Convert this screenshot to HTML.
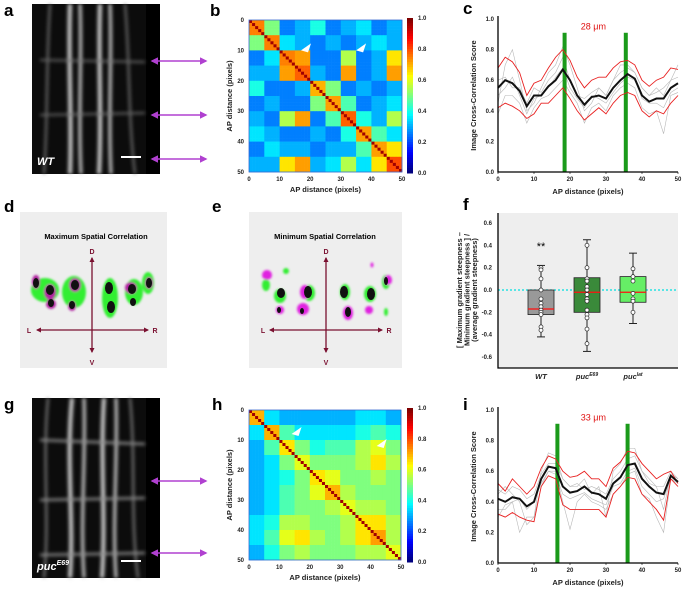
<!DOCTYPE html>
<html><head><meta charset="utf-8"><style>
body{margin:0;background:#fff;width:683px;height:587px;overflow:hidden}
text{font-family:"Liberation Sans",Arial,sans-serif}
.lbl{font-size:17px;font-weight:bold}
.tk{font-size:6px;font-weight:bold;fill:#222}
.at{font-size:7.5px;font-weight:bold;fill:#222}
</style></head><body>
<svg id="fig" width="683" height="587" viewBox="0 0 683 587" xmlns="http://www.w3.org/2000/svg">
<defs>
<filter id="bl" x="-20%" y="-20%" width="140%" height="140%"><feGaussianBlur stdDeviation="1.8"/></filter>
<filter id="bl2"><feGaussianBlur stdDeviation="1"/></filter>
<marker id="ah" viewBox="0 0 10 10" refX="8" refY="5" markerWidth="5" markerHeight="5" orient="auto-start-reverse"><path d="M0,0L10,5L0,10z" fill="#b040d0"/></marker>
<marker id="am" viewBox="0 0 10 10" refX="8" refY="5" markerWidth="4" markerHeight="4" orient="auto-start-reverse"><path d="M0,0L10,5L0,10z" fill="#7a1030"/></marker>
</defs>
<g id="labels">
<text class="lbl" x="4" y="16">a</text>
<text class="lbl" x="210" y="16">b</text>
<text class="lbl" x="463" y="14">c</text>
<text class="lbl" x="4" y="212">d</text>
<text class="lbl" x="212" y="212">e</text>
<text class="lbl" x="463" y="210">f</text>
<text class="lbl" x="4" y="410">g</text>
<text class="lbl" x="212" y="410">h</text>
<text class="lbl" x="463" y="410">i</text>
</g>
<!-- panel a -->
<g>
<rect x="32" y="4" width="128" height="170" fill="#0c0c0c"/>
<rect x="146" y="4" width="14" height="170" fill="#000"/>
<g filter="url(#bl)" stroke="#cfcfcf" fill="none">
<path d="M70,4 C68,60 72,120 70,174" stroke-width="4"/>
<path d="M80,4 C82,60 78,120 81,174" stroke-width="3"/>
<path d="M100,4 C98,60 102,120 99,174" stroke-width="4"/>
<path d="M110,4 C112,60 108,120 111,174" stroke-width="3"/>
<path d="M50,4 C46,60 48,120 44,174" stroke-width="2" stroke="#777"/>
<path d="M125,4 C130,60 128,120 135,174" stroke-width="2" stroke="#777"/>
<path d="M40,60 L145,62 M40,115 L145,113" stroke-width="2" stroke="#666"/>
</g>
<text x="37" y="165" fill="#fff" font-size="11" font-weight="bold" font-style="italic">WT</text>
<rect x="121" y="156" width="20" height="2" fill="#fff"/>
</g>
<g stroke="#b040d0" stroke-width="1.5">
<line x1="152" y1="61" x2="206" y2="61" marker-start="url(#ah)" marker-end="url(#ah)"/>
<line x1="152" y1="115" x2="206" y2="115" marker-start="url(#ah)" marker-end="url(#ah)"/>
<line x1="152" y1="159" x2="206" y2="159" marker-start="url(#ah)" marker-end="url(#ah)"/>
</g>
<!-- panel g -->
<g>
<rect x="32" y="398" width="128" height="180" fill="#0c0c0c"/>
<rect x="146" y="398" width="14" height="180" fill="#000"/>
<g filter="url(#bl)" stroke="#cfcfcf" fill="none">
<path d="M72,398 C66,460 74,520 70,578" stroke-width="4"/>
<path d="M84,398 C86,460 80,520 84,578" stroke-width="3"/>
<path d="M104,398 C100,460 106,520 102,578" stroke-width="4"/>
<path d="M116,398 C118,460 112,520 116,578" stroke-width="3"/>
<path d="M48,398 C42,460 50,520 44,578" stroke-width="2" stroke="#888"/>
<path d="M130,398 C136,460 130,520 138,578" stroke-width="2" stroke="#888"/>
<path d="M40,440 L145,444 M40,500 L145,498 M40,555 L145,553" stroke-width="2.5" stroke="#888"/>
</g>
<text x="37" y="570" fill="#fff" font-size="11" font-weight="bold" font-style="italic">puc<tspan font-size="7" dy="-5">E69</tspan></text>
<rect x="121" y="560" width="20" height="2" fill="#fff"/>
</g>
<g stroke="#b040d0" stroke-width="1.5">
<line x1="152" y1="481" x2="206" y2="481" marker-start="url(#ah)" marker-end="url(#ah)"/>
<line x1="152" y1="553" x2="206" y2="553" marker-start="url(#ah)" marker-end="url(#ah)"/>
</g>
<!-- panels d,e -->
<g>
<rect x="20" y="212" width="147" height="156" fill="#eeeeee"/>
<text x="96" y="239" text-anchor="middle" font-size="7.5" font-weight="bold">Maximum Spatial Correlation</text>
<g filter="url(#bl2)">
<ellipse cx="45" cy="290" rx="14" ry="12" fill="#33ee33"/><ellipse cx="74" cy="292" rx="12" ry="16" fill="#33ee33"/>
<ellipse cx="110" cy="298" rx="8" ry="20" fill="#33ee33"/><ellipse cx="134" cy="292" rx="9" ry="13" fill="#33ee33"/><ellipse cx="148" cy="283" rx="6" ry="11" fill="#33ee33"/>
<ellipse cx="36" cy="282" rx="4" ry="7" fill="#b020a0"/><ellipse cx="50" cy="292" rx="6" ry="8" fill="#b020a0"/><ellipse cx="51" cy="304" rx="5" ry="5" fill="#b020a0"/>
<ellipse cx="75" cy="285" rx="6" ry="7" fill="#b020a0"/><ellipse cx="72" cy="306" rx="4" ry="5" fill="#b020a0"/><ellipse cx="131" cy="288" rx="6" ry="6" fill="#b020a0"/><ellipse cx="149" cy="283" rx="4" ry="6" fill="#b020a0"/>
</g>
<g fill="#111">
<ellipse cx="36" cy="283" rx="3" ry="5"/><ellipse cx="50" cy="290" rx="4" ry="5"/><ellipse cx="51" cy="303" rx="3" ry="4"/><ellipse cx="75" cy="285" rx="4" ry="5"/><ellipse cx="72" cy="305" rx="3" ry="4"/>
<ellipse cx="109" cy="288" rx="4" ry="6"/><ellipse cx="111" cy="307" rx="4" ry="6"/><ellipse cx="132" cy="289" rx="4" ry="5"/><ellipse cx="133" cy="302" rx="3" ry="4"/><ellipse cx="149" cy="283" rx="3" ry="5"/>
</g>
<g stroke="#7a1030" stroke-width="1.3"><line x1="92" y1="352" x2="92" y2="258" marker-start="url(#am)" marker-end="url(#am)"/><line x1="37" y1="330" x2="148" y2="330" marker-start="url(#am)" marker-end="url(#am)"/></g>
<g font-size="7" font-weight="bold" fill="#7a1030"><text x="92" y="254" text-anchor="middle">D</text><text x="92" y="365" text-anchor="middle">V</text><text x="29" y="333" text-anchor="middle">L</text><text x="155" y="333" text-anchor="middle">R</text></g>
</g>
<g>
<rect x="249" y="212" width="153" height="156" fill="#eeeeee"/>
<text x="325" y="239" text-anchor="middle" font-size="7.5" font-weight="bold">Minimum Spatial Correlation</text>
<g filter="url(#bl2)">
<ellipse cx="266" cy="285" rx="4" ry="6" fill="#33ee33"/><ellipse cx="286" cy="271" rx="3" ry="3" fill="#33ee33"/><ellipse cx="280" cy="296" rx="6" ry="7" fill="#33ee33"/><ellipse cx="309" cy="293" rx="6" ry="8" fill="#33ee33"/>
<ellipse cx="345" cy="292" rx="5" ry="8" fill="#33ee33"/><ellipse cx="370" cy="294" rx="6" ry="8" fill="#33ee33"/><ellipse cx="386" cy="282" rx="4" ry="7" fill="#33ee33"/><ellipse cx="386" cy="312" rx="2" ry="4" fill="#33ee33"/>
<ellipse cx="267" cy="275" rx="5" ry="5" fill="#e020e0"/><ellipse cx="280" cy="310" rx="4" ry="4" fill="#e020e0"/><ellipse cx="305" cy="292" rx="5" ry="7" fill="#e020e0"/><ellipse cx="303" cy="309" rx="6" ry="6" fill="#e020e0"/>
<ellipse cx="348" cy="313" rx="5" ry="7" fill="#e020e0"/><ellipse cx="369" cy="310" rx="4" ry="4" fill="#e020e0"/><ellipse cx="372" cy="265" rx="1.5" ry="2.5" fill="#e020e0"/><ellipse cx="388" cy="280" rx="4" ry="5" fill="#e020e0"/>
</g>
<g fill="#111">
<ellipse cx="281" cy="293" rx="4" ry="5"/><ellipse cx="279" cy="310" rx="2" ry="3"/><ellipse cx="308" cy="292" rx="4" ry="6"/><ellipse cx="302" cy="311" rx="2" ry="3"/>
<ellipse cx="344" cy="292" rx="4" ry="6"/><ellipse cx="348" cy="312" rx="3" ry="5"/><ellipse cx="371" cy="294" rx="4" ry="6"/><ellipse cx="386" cy="281" rx="2" ry="4"/>
</g>
<g stroke="#7a1030" stroke-width="1.3"><line x1="326" y1="352" x2="326" y2="258" marker-start="url(#am)" marker-end="url(#am)"/><line x1="270" y1="330" x2="382" y2="330" marker-start="url(#am)" marker-end="url(#am)"/></g>
<g font-size="7" font-weight="bold" fill="#7a1030"><text x="326" y="254" text-anchor="middle">D</text><text x="326" y="365" text-anchor="middle">V</text><text x="263" y="333" text-anchor="middle">L</text><text x="389" y="333" text-anchor="middle">R</text></g>
</g>
<g id="dyn"></g>
</svg>
<script>
// ---------- data ----------
const heatB=[
[.75,.5,.25,.3,.4,.25,.3,.35,.25,.3],
[.5,.75,.35,.3,.25,.3,.25,.3,.35,.3],
[.25,.35,.75,.72,.25,.25,.55,.25,.3,.65],
[.3,.3,.72,.78,.3,.25,.72,.25,.3,.72],
[.4,.25,.25,.3,.7,.5,.25,.3,.25,.3],
[.25,.3,.25,.25,.5,.72,.45,.25,.3,.35],
[.3,.25,.55,.72,.25,.45,.78,.4,.3,.55],
[.35,.3,.25,.25,.3,.25,.4,.72,.45,.35],
[.25,.35,.3,.3,.25,.3,.3,.45,.72,.65],
[.3,.3,.65,.72,.3,.35,.55,.35,.65,.8]];
const heatH=[
[.7,.35,.3,.3,.3,.3,.3,.35,.35,.3],
[.35,.7,.45,.35,.35,.35,.35,.4,.45,.4],
[.3,.45,.65,.5,.4,.45,.45,.55,.6,.5],
[.3,.35,.5,.6,.5,.5,.5,.55,.65,.55],
[.3,.35,.4,.5,.65,.6,.5,.5,.55,.5],
[.3,.35,.45,.5,.6,.7,.55,.5,.5,.5],
[.3,.35,.45,.5,.5,.55,.6,.55,.55,.5],
[.35,.4,.55,.55,.5,.5,.55,.65,.65,.55],
[.35,.45,.6,.65,.55,.5,.55,.65,.72,.55],
[.3,.4,.5,.55,.5,.5,.5,.55,.55,.6]];
const xsC=[0,2,4,6,8,10,12,14,16,18,20,22,24,26,28,30,32,34,36,38,40,42,44,46,48,50];
const meanC=[.55,.6,.58,.53,.43,.5,.5,.56,.6,.67,.6,.5,.44,.49,.5,.48,.55,.6,.64,.61,.5,.46,.48,.48,.55,.58];
const upC=[.68,.75,.72,.65,.5,.58,.6,.68,.75,.8,.73,.62,.55,.6,.62,.62,.68,.72,.73,.7,.6,.56,.6,.62,.68,.67];
const loC=[.42,.45,.43,.4,.35,.38,.45,.45,.5,.55,.48,.4,.34,.38,.42,.38,.45,.5,.52,.5,.4,.36,.4,.38,.45,.5];
const grayC=[
[.45,.7,.8,.6,.4,.45,.55,.65,.7,.82,.7,.55,.4,.45,.55,.5,.6,.7,.7,.65,.55,.5,.55,.5,.6,.7],
[.38,.5,.5,.45,.32,.42,.48,.5,.55,.6,.52,.45,.32,.42,.45,.4,.5,.55,.58,.55,.42,.38,.4,.25,.5,.52],
[.6,.62,.55,.55,.45,.55,.52,.6,.65,.75,.6,.5,.48,.52,.55,.5,.6,.65,.68,.65,.55,.5,.52,.55,.6,.62],
[.5,.55,.62,.5,.38,.48,.5,.55,.62,.68,.55,.48,.42,.5,.48,.45,.52,.58,.62,.6,.48,.45,.45,.42,.52,.55]];
const greenC=[18.5,35.5];
const meanI=[.42,.4,.43,.42,.37,.4,.55,.63,.62,.5,.46,.47,.5,.46,.45,.42,.52,.56,.64,.65,.55,.5,.46,.45,.57,.53];
const upI=[.52,.47,.55,.5,.45,.5,.62,.7,.68,.6,.56,.57,.6,.55,.55,.5,.62,.66,.73,.72,.65,.6,.55,.58,.6,.52];
const loI=[.32,.3,.33,.3,.28,.27,.5,.57,.55,.38,.35,.35,.35,.35,.35,.3,.45,.5,.56,.55,.45,.4,.35,.28,.55,.5];
const grayI=[
[.45,.5,.45,.4,.25,.3,.6,.72,.7,.55,.5,.5,.55,.45,.5,.3,.6,.65,.75,.75,.6,.55,.5,.35,.58,.55],
[.35,.35,.4,.2,.3,.3,.5,.6,.6,.4,.22,.4,.45,.4,.38,.35,.45,.5,.58,.6,.45,.42,.3,.2,.55,.5],
[.48,.45,.5,.48,.42,.45,.58,.65,.65,.55,.5,.52,.48,.5,.48,.45,.55,.6,.68,.7,.6,.52,.5,.5,.6,.55],
[.3,.38,.4,.42,.35,.4,.52,.6,.58,.45,.42,.44,.46,.42,.4,.38,.5,.52,.6,.62,.5,.45,.4,.42,.55,.52]];
const greenI=[16.5,36];
const boxCats=["WT","pucE69","puclat"];
const boxQ1=[-.22,-.2,-.11],boxMed=[-.17,-.02,-.02],boxQ3=[0,.11,.12],boxMin=[-.42,-.55,-.3],boxMax=[.22,.45,.33];
const boxPts=[[.2,.18,.1,0,-.08,-.12,-.15,-.18,-.2,-.22,-.33,-.36],[.4,.2,.1,.08,.03,0,-.04,-.08,-.1,-.18,-.22,-.25,-.35,-.48],[.19,.12,.08,-.03,-.08,-.1,-.2]];
const boxFill=["#999999","#3a8a3a","#66ee66"];
// ---------- helpers ----------
const NS="http://www.w3.org/2000/svg",root=document.getElementById('dyn');
function mk(t,a,p){const e=document.createElementNS(NS,t);for(const k in a)e.setAttribute(k,a[k]);(p||root).appendChild(e);return e;}
function jet(v){const r=Math.min(1,Math.max(0,1.5-Math.abs(4*v-3))),g=Math.min(1,Math.max(0,1.5-Math.abs(4*v-2))),b=Math.min(1,Math.max(0,1.5-Math.abs(4*v-1)));return `rgb(${r*255|0},${g*255|0},${b*255|0})`;}
function txt(x,y,s,cls,anchor,p){const t=mk('text',{x,y,class:cls,'text-anchor':anchor||'middle'},p);t.textContent=s;return t;}
// ---------- heatmaps ----------
function heatmap(name,mat,x0,y0,w,h,cbY0,cbY1,arrows){
  const g=mk('g',{});
  
  
  const n=50,cw=w/n,ch=h/n;
  for(let i=0;i<n;i++)for(let j=0;j<n;j++){
    const v=i===j?1:mat[Math.floor(i/5)][Math.floor(j/5)];
    const c=mk('rect',{x:x0+j*cw,y:y0+i*ch,width:cw+.3,height:ch+.3,fill:i===j?'#a00000':jet(v)},g);
    
    
  }
  mk('rect',{x:x0,y:y0,width:w,height:h,fill:'none',stroke:'#3a6ad0','stroke-width':.8},g);
  for(let t=0;t<=50;t+=10){txt(x0+t*cw,y0+h+9,t,'tk','middle',g);txt(x0-5,y0+t*ch+2,t,'tk','end',g);}
  txt(x0+w/2,y0+h+20,'AP distance (pixels)','at','middle',g);
  const yt=txt(0,0,'AP distance (pixels)','at','middle',g);yt.setAttribute('transform',`translate(${x0-17},${y0+h/2}) rotate(-90)`);
  const cb=mk('g',{},g);
  
  
  for(let k=0;k<60;k++){const v=1-k/59;mk('rect',{x:407,y:cbY0+k*(cbY1-cbY0)/60,width:6,height:(cbY1-cbY0)/60+.5,fill:jet(v)},cb);}
  for(let k=0;k<=5;k++){txt(418,cbY1-k*(cbY1-cbY0)/5+2,(k/5).toFixed(1),'tk','start',cb);}
  arrows.forEach(a=>{const p=mk('path',{d:`M${x0+a[0]*cw},${y0+a[1]*ch} l10,-7 l-3,9 z`,fill:'#fff'},g);
    
    });
}
heatmap('heatmap-b',heatB,249,20,153,152,18,173,[[17,10],[35,10]]);
heatmap('heatmap-h',heatH,249,410,152,150,408,562,[[14,8],[42,12]]);
// ---------- line charts ----------
function lineChart(name,x0,x1,yTop,yBot,label,greens,grays,up,lo,mean){
  const g=mk('g',{});
  
  
  const X=v=>x0+(x1-x0)*v/50,Y=v=>yBot-(yBot-yTop)*v;
  const pts=arr=>arr.map((v,i)=>X(xsC[i])+','+Y(v)).join(' ');
  grays.forEach(a=>{const l=mk('polyline',{points:pts(a),fill:'none',stroke:'#b8b8b8','stroke-width':.6},g);
    
    });
  greens.forEach(v=>{const r=mk('rect',{x:X(v)-2,y:Y(.91),width:4,height:Y(0)-Y(.91),fill:'#1a9a1a'},g);
    
    });
  [up,lo].forEach(a=>{const l=mk('polyline',{points:pts(a),fill:'none',stroke:'#e82020','stroke-width':.9},g);
    
    });
  const m=mk('polyline',{points:pts(mean),fill:'none',stroke:'#111','stroke-width':2},g);
  
  
  mk('path',{d:`M${x0},${yTop-3}V${yBot}H${x1}`,fill:'none',stroke:'#000','stroke-width':1.3},g);
  for(let t=0;t<=50;t+=10){mk('line',{x1:X(t),x2:X(t),y1:yBot,y2:yBot+2,stroke:'#000','stroke-width':.6},g);txt(X(t),yBot+9,t,'tk','middle',g);}
  for(let k=0;k<=5;k++){const v=k/5;txt(x0-4,Y(v)+2,v.toFixed(1),'tk','end',g);}
  txt((x0+x1)/2,yBot+22,'AP distance (pixels)','at','middle',g);
  const yt=txt(0,0,'Image Cross-Correlation Score','at','middle',g);yt.setAttribute('transform',`translate(${x0-22},${(yTop+yBot)/2}) rotate(-90)`);
  const lt=txt(X(26.5),Y(.93),label,'','middle',g);lt.setAttribute('fill','#e01010');lt.setAttribute('font-size','9');
}
lineChart('line-chart-c',498,678,19,172,'28 μm',greenC,grayC,upC,loC,meanC);
lineChart('line-chart-i',498,678,410,563,'33 μm',greenI,grayI,upI,loI,meanI);
// ---------- box plot ----------
(function(){
  const g=mk('g',{});
  
  
  const x0=498,x1=678,yT=213,yB=368,Y=v=>290-v*(67/0.6);
  const cx=[541,587,633];
  mk('rect',{x:x0,y:yT,width:x1-x0,height:yB-yT,fill:'#eeeeee'},g);
  mk('line',{x1:x0,x2:x1,y1:Y(0),y2:Y(0),stroke:'#00e0e0','stroke-width':1.2,'stroke-dasharray':'2,2'},g);
  boxCats.forEach((c,i)=>{
    const b=mk('g',{},g);
    
    
    mk('line',{x1:cx[i],x2:cx[i],y1:Y(boxMax[i]),y2:Y(boxMin[i]),stroke:'#222','stroke-width':1},b);
    [boxMax[i],boxMin[i]].forEach(v=>mk('line',{x1:cx[i]-4,x2:cx[i]+4,y1:Y(v),y2:Y(v),stroke:'#222'},b));
    mk('rect',{x:cx[i]-13,y:Y(boxQ3[i]),width:26,height:Y(boxQ1[i])-Y(boxQ3[i]),fill:boxFill[i],stroke:'#222','stroke-width':.8},b);
    mk('line',{x1:cx[i]-13,x2:cx[i]+13,y1:Y(boxMed[i]),y2:Y(boxMed[i]),stroke:'#ff1010','stroke-width':1.3},b);
    boxPts[i].forEach(v=>{const p=mk('circle',{cx:cx[i],cy:Y(v),r:2,fill:'#fff',stroke:'#222','stroke-width':.7},b);
      
      });
  });
  txt(cx[0],Y(.36),'**','','middle',g).setAttribute('font-size','11');
  mk('path',{d:`M${x0},${yT}V${yB}H${x1}`,fill:'none',stroke:'#000','stroke-width':1.3},g);
  for(let k=-3;k<=3;k++){const v=k*.2;txt(x0-6,Y(v)+2,v.toFixed(1),'tk','end',g);}
  const lb=[['WT',''],['puc','E69'],['puc','lat']];
  lb.forEach((l,i)=>{const t=txt(cx[i],yB+11,l[0],'at','middle',g);t.setAttribute('font-style','italic');
    if(l[1]){const s=document.createElementNS(NS,'tspan');s.setAttribute('font-size','5');s.setAttribute('dy','-3');s.textContent=l[1];t.appendChild(s);}});
  const yl=['[ Maximum gradient steepness –','Minimum gradient steepness ] /','(average gradient steepness)'];
  yl.forEach((s,k)=>{const t=txt(0,0,s,'at','middle',g);t.setAttribute('font-size','6.5');t.setAttribute('transform',`translate(${x0-36+k*7.5},290) rotate(-90)`);});
})();
</script>
</body></html>
